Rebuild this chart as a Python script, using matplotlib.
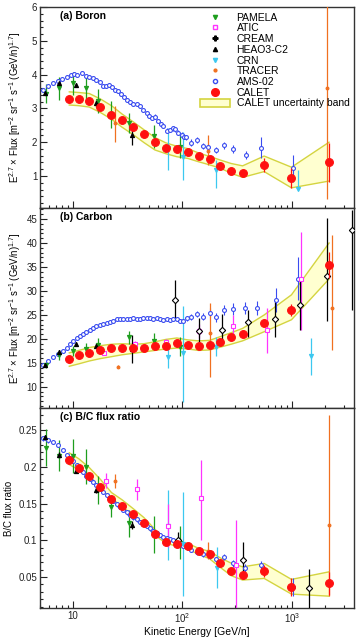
import matplotlib
matplotlib.use('Agg')
import matplotlib.pyplot as plt
from matplotlib.lines import Line2D
from matplotlib.patches import Patch
from matplotlib.ticker import FixedLocator, MultipleLocator, LogLocator, NullFormatter

plt.rcParams['font.family'] = ['Liberation Sans', 'DejaVu Sans']
plt.rcParams['mathtext.fontset'] = 'custom'
plt.rcParams['mathtext.rm'] = 'Liberation Sans'
plt.rcParams['mathtext.it'] = 'Liberation Sans:italic'
plt.rcParams['mathtext.bf'] = 'Liberation Sans:bold'

# ---------------- CALET (same energy bins in all panels) ----------------
calet_e = [9.26, 11.3, 14.1, 17.8, 22.5, 28.2, 35.6, 44.5, 56.1, 70.6,
           89.0, 112, 141, 177, 223, 279, 355, 559, 993, 2190]

calet_b = [3.29, 3.29, 3.23, 3.04, 2.81, 2.65, 2.45, 2.23, 2.00, 1.84,
           1.79, 1.72, 1.59, 1.51, 1.30, 1.14, 1.10, 1.33, 0.95, 1.40]
calet_b_err = [0.03, 0.03, 0.03, 0.03, 0.03, 0.03, 0.03, 0.03, 0.03, 0.04,
               0.04, 0.05, 0.05, 0.06, 0.07, 0.08, 0.10, 0.20, 0.30, 0.57]
band_b_hi = [3.49, 3.47, 3.44, 3.28, 3.08, 2.83, 2.60, 2.37, 2.14, 1.98,
             1.88, 1.81, 1.68, 1.58, 1.47, 1.37, 1.30, 1.59, 1.26, 2.00]
band_b_lo = [3.10, 3.08, 3.04, 2.88, 2.68, 2.44, 2.22, 1.99, 1.77, 1.66,
             1.57, 1.52, 1.42, 1.33, 1.23, 1.08, 0.96, 1.13, 0.65, 0.85]

calet_c = [15.76, 16.6, 17.15, 17.7, 18.05, 18.05, 18.2, 18.2, 18.6, 18.6,
           19.1, 18.75, 18.6, 18.75, 19.45, 20.3, 21.0, 23.3, 26.0, 35.4]
calet_c_err = [0.3, 0.3, 0.3, 0.3, 0.3, 0.3, 0.3, 0.3, 0.35, 0.35,
               0.4, 0.4, 0.4, 0.5, 0.5, 0.6, 0.7, 0.8, 1.3, 2.7]
band_c_hi = [17.1, 17.6, 18.2, 18.6, 18.9, 19.0, 18.9, 19.0, 19.4, 19.9,
             20.2, 19.8, 19.6, 19.7, 20.5, 21.3, 22.2, 25.0, 29.2, 40.0]
band_c_lo = [14.3, 14.8, 15.4, 15.9, 16.3, 16.7, 17.0, 17.3, 17.6, 17.9,
             18.1, 17.9, 17.6, 17.7, 18.3, 18.9, 19.6, 21.5, 24.0, 32.5]

calet_bc = [0.2087, 0.1978, 0.1879, 0.172, 0.1557, 0.1466, 0.1353, 0.124, 0.1085, 0.098,
            0.0944, 0.0922, 0.0854, 0.0813, 0.0686, 0.0582, 0.0527, 0.0582, 0.0369, 0.0414]
calet_bc_err = [0.003, 0.003, 0.003, 0.003, 0.003, 0.003, 0.003, 0.003, 0.003, 0.003,
                0.003, 0.003, 0.003, 0.004, 0.004, 0.004, 0.005, 0.008, 0.012, 0.016]
band_bc_hi = [0.219, 0.211, 0.199, 0.183, 0.165, 0.155, 0.143, 0.131, 0.115, 0.102,
              0.098, 0.096, 0.089, 0.085, 0.076, 0.069, 0.064, 0.0686, 0.0469, 0.0572]
band_bc_lo = [0.203, 0.196, 0.185, 0.170, 0.157, 0.146, 0.134, 0.122, 0.107, 0.096,
              0.092, 0.088, 0.081, 0.075, 0.063, 0.052, 0.046, 0.0482, 0.0269, 0.0241]

# ---------------- AMS-02 ----------------
ams_b_e = [5.36, 5.96, 6.61, 7.24, 8.0, 8.75, 9.52, 10.2, 10.9, 12.0,
           13.1, 14.1, 15.3, 16.4, 17.7, 18.9, 20.0, 21.2, 22.7, 24.2,
           25.6, 27.2, 29.0, 30.9, 33.2, 35.6, 38.1, 40.9, 43.9, 47.1,
           49.8, 52.6, 56.1, 59.7, 63.2, 66.8, 71.6, 76.9, 81.3, 85.5,
           91.6, 98.2, 103, 109, 121, 135, 155, 172, 205, 239,
           291, 380, 528, 1028]
ams_b = [3.54, 3.66, 3.76, 3.82, 3.88, 3.94, 3.99, 4.02, 4.00, 4.06,
         3.96, 3.94, 3.91, 3.84, 3.79, 3.66, 3.66, 3.68, 3.62, 3.54,
         3.50, 3.42, 3.33, 3.25, 3.19, 3.14, 3.13, 3.07, 2.95, 2.85,
         2.78, 2.71, 2.76, 2.64, 2.54, 2.48, 2.34, 2.36, 2.41, 2.38,
         2.28, 2.21, 2.16, 2.14, 1.99, 2.07, 1.89, 1.85, 1.77, 1.91,
         1.80, 1.62, 1.84, 1.23]
ams_b_err = [0.04, 0.04, 0.04, 0.04, 0.04, 0.04, 0.04, 0.04, 0.04, 0.04,
             0.05, 0.05, 0.05, 0.05, 0.05, 0.05, 0.05, 0.05, 0.05, 0.05,
             0.05, 0.05, 0.05, 0.05, 0.05, 0.05, 0.05, 0.05, 0.06, 0.06,
             0.06, 0.06, 0.06, 0.06, 0.06, 0.07, 0.07, 0.07, 0.07, 0.07,
             0.08, 0.08, 0.08, 0.08, 0.09, 0.09, 0.10, 0.10, 0.10, 0.11,
             0.12, 0.13, 0.30, 0.40]

ams_c_e = [5.36, 5.96, 6.61, 7.35, 8.17, 8.75, 9.39, 10.07, 10.8, 11.6,
           12.4, 13.3, 14.3, 15.3, 16.4, 17.7, 18.9, 20.3, 21.8, 23.3,
           25.1, 26.9, 28.8, 30.9, 33.2, 35.6, 38.1, 40.9, 43.9, 47.1,
           50.5, 54.2, 58.1, 62.4, 66.8, 71.6, 76.9, 82.4, 88.4, 94.8,
           101.8, 109.1, 121, 135, 153, 178, 205, 239, 291, 372,
           476, 710, 1143]
ams_c = [14.6, 15.3, 16.2, 16.8, 17.4, 18.05, 19.0, 19.5, 20.1, 20.6,
         21.0, 21.5, 21.9, 22.2, 22.6, 22.9, 23.1, 23.4, 23.6, 23.8,
         24.1, 24.2, 24.2, 24.2, 24.2, 24.3, 24.2, 24.2, 24.4, 24.3,
         24.4, 24.2, 24.3, 24.2, 23.96, 24.1, 24.0, 24.1, 24.2, 23.8,
         23.8, 24.3, 24.65, 25.2, 24.65, 25.5, 24.5, 26.0, 26.2, 26.4,
         26.4, 28.1, 32.6]
ams_c_err = [0.25, 0.25, 0.25, 0.25, 0.25, 0.25, 0.25, 0.25, 0.25, 0.25,
             0.3, 0.3, 0.3, 0.3, 0.3, 0.3, 0.3, 0.3, 0.3, 0.3,
             0.3, 0.3, 0.3, 0.3, 0.3, 0.35, 0.35, 0.35, 0.35, 0.35,
             0.35, 0.35, 0.35, 0.4, 0.4, 0.4, 0.4, 0.45, 0.45, 0.45,
             0.5, 0.5, 0.6, 0.7, 0.8, 0.9, 1.0, 1.1, 1.2, 1.3,
             1.5, 2.5, 4.4]

ams_bc_e = [5.36, 5.96, 6.61, 7.35, 8.17, 8.75, 9.39, 10.07, 10.8, 11.6,
            12.4, 13.3, 14.3, 15.3, 16.4, 17.7, 18.9, 20.3, 21.8, 23.3,
            25.1, 26.9, 28.8, 30.9, 33.2, 35.6, 38.1, 40.9, 43.9, 47.1,
            50.5, 54.2, 58.1, 62.4, 66.8, 71.6, 76.9, 82.4, 88.4, 94.8,
            101.8, 109.1, 121, 135, 153, 178, 205, 239, 291, 372,
            528, 1028]
ams_bc = [0.2387, 0.236, 0.234, 0.2296, 0.2228, 0.216, 0.2115, 0.208, 0.2024, 0.198,
          0.193, 0.188, 0.184, 0.180, 0.175, 0.1706, 0.166, 0.1616, 0.157, 0.1534,
          0.149, 0.145, 0.1411, 0.138, 0.1344, 0.1312, 0.1285, 0.1253, 0.1221, 0.1194,
          0.1162, 0.113, 0.1103, 0.1071, 0.1049, 0.1026, 0.1012, 0.1003, 0.098, 0.0958,
          0.0926, 0.0904, 0.0867, 0.0845, 0.081, 0.0786, 0.074, 0.0776, 0.0686, 0.0626,
          0.0663, 0.0368]
ams_bc_err = [0.003, 0.003, 0.003, 0.003, 0.003, 0.003, 0.003, 0.003, 0.003, 0.003,
              0.003, 0.003, 0.003, 0.003, 0.003, 0.003, 0.003, 0.003, 0.003, 0.003,
              0.003, 0.003, 0.003, 0.003, 0.003, 0.003, 0.003, 0.003, 0.003, 0.003,
              0.003, 0.003, 0.003, 0.003, 0.003, 0.003, 0.003, 0.003, 0.003, 0.003,
              0.003, 0.003, 0.003, 0.004, 0.004, 0.004, 0.004, 0.004, 0.005, 0.005,
              0.006, 0.012]

# ---------------- PAMELA ----------------
pam_e = [5.66, 7.5, 9.93, 13.1, 17.0, 22.1, 32.7, 55.3, 95.5]
pam_b = [3.43, 3.59, 3.74, 3.59, 3.22, 2.82, 2.57, 2.17, 1.87]
pam_b_err = [0.28, 0.33, 0.33, 0.40, 0.35, 0.40, 0.30, 0.35, 0.35]
pam_c_e = [5.66, 7.5, 9.93, 13.1, 17.0, 32.7, 55.3, 95.5]
pam_c = [14.5, 16.6, 17.5, 18.0, 18.7, 20.3, 19.5, 18.4]
pam_c_err = [0.6, 1.0, 1.0, 1.2, 1.4, 1.4, 1.8, 1.9]
pam_bc = [0.226, 0.215, 0.215, 0.200, 0.168, 0.146, 0.123, 0.108, 0.097]
pam_bc_err = [0.025, 0.021, 0.023, 0.024, 0.019, 0.014, 0.018, 0.025, 0.022]

# ---------------- HEAO3-C2 ----------------
heao_e = [5.5, 7.5, 10.6, 16.4, 34.8]
heao_b = [3.47, 3.76, 3.68, 3.15, 2.21]
heao_b_err = [0.05, 0.06, 0.06, 0.10, 0.30]
heao_c = [14.5, 17.2, 18.9, 18.6, 17.9]
heao_c_err = [0.3, 0.4, 0.4, 0.5, 2.9]
heao_bc = [0.240, 0.216, 0.195, 0.169, 0.121]
heao_bc_err = [0.003, 0.004, 0.004, 0.005, 0.005]

# ---------------- CREAM ----------------
cream_c_e = [85, 141, 229, 398, 700, 1200, 2075, 3557]
cream_c = [28.1, 21.7, 21.9, 23.6, 24.1, 27.1, 33.1, 42.7]
cream_c_lo = [4.1, 2.6, 2.8, 3.1, 3.6, 5.2, 9.3, 16.7]
cream_c_hi = [4.2, 2.6, 3.2, 2.4, 4.0, 5.9, 12.2, 4.2]
cream_bc_e = [91, 360, 1440]
cream_bc = [0.1003, 0.0727, 0.0346]
cream_bc_lo = [0.009, 0.025, 0.027]
cream_bc_hi = [0.011, 0.025, 0.026]

# ---------------- ATIC ----------------
atic_c_e = [19.2, 36.6, 71, 141, 291, 596, 1222]
atic_c = [17.0, 19.0, 19.4, 21.7, 22.6, 21.8, 32.6]
atic_c_lo = [0.4, 0.5, 0.6, 1.5, 2.8, 4.8, 10.7]
atic_c_hi = [0.4, 0.5, 0.6, 1.5, 2.4, 4.6, 9.6]
atic_bc_e = [20.0, 38.2, 74.0, 147, 307]
atic_bc = [0.181, 0.170, 0.119, 0.157, 0.066]
atic_bc_lo = [0.010, 0.015, 0.028, 0.057, 0.059]
atic_bc_hi = [0.011, 0.014, 0.031, 0.052, 0.062]

# ---------------- CRN ----------------
crn_b_e = [73.3, 101, 205, 1143]
crn_b = [1.82, 1.57, 1.18, 0.62]
crn_b_lo = [0.64, 0.69, 0.54, 0.03]
crn_b_hi = [0.59, 0.74, 0.29, 0.56]
crn_c_e = [73.3, 101, 205, 1490]
crn_c = [16.3, 17.0, 18.4, 16.5]
crn_c_lo = [2.4, 10.2, 2.05, 4.0]
crn_c_hi = [2.1, 9.9, 2.1, 3.65]
crn_bc_e = [73.3, 101, 206]
crn_bc = [0.120, 0.095, 0.063]
crn_bc_lo = [0.047, 0.070, 0.028]
crn_bc_hi = [0.048, 0.071, 0.028]

# ---------------- TRACER ----------------
tracer_b_e = [24.2, 172, 2075]
tracer_b = [2.56, 1.75, 3.59]
tracer_b_lo = [0.54, 0.42, 3.26]
tracer_b_hi = [0.51, 0.46, 3.0]
tracer_c_e = [25.9, 180, 2320]
tracer_c = [14.2, 21.2, 26.4]
tracer_c_lo = [0.3, 9.1, 8.7]
tracer_c_hi = [0.3, 6.2, 15.3]
tracer_bc_e = [24.2, 172, 2200]
tracer_bc = [0.181, 0.086, 0.121]
tracer_bc_lo = [0.010, 0.011, 0.096]
tracer_bc_hi = [0.009, 0.012, 0.149]

# colours
c_pam = '#1e9e1e'
c_atic = '#ff33ff'
c_cream = 'black'
c_heao = 'black'
c_crn = '#3cc8f0'
c_tracer = '#f07020'
c_ams = '#3a4cf0'
c_calet = '#ff1010'
c_band_fill = '#ffffd0'
c_band_edge = '#d4d440'


def draw(ax, e, v, lo, hi, marker, color, ms, open_marker=False, z=3, lw=0.9):
    ax.errorbar(e, v, yerr=[lo, hi], fmt=marker, color=color, ms=ms,
                mfc='white' if open_marker else color, mec=color, mew=0.8,
                elinewidth=lw, capsize=0, zorder=z)


def draw_band(ax, hi, lo):
    ax.fill_between(calet_e, lo, hi, facecolor=c_band_fill, edgecolor='none', zorder=1)
    ax.plot(calet_e, hi, color=c_band_edge, lw=1.0, zorder=1.5)
    ax.plot(calet_e, lo, color=c_band_edge, lw=1.0, zorder=1.5)


fig = plt.figure(figsize=(3.61, 6.4), dpi=100)
L, W = 40 / 361, 314 / 361
ax_a = fig.add_axes([L, 1 - 208 / 640, W, 201 / 640])
ax_b = fig.add_axes([L, 1 - 408 / 640, W, 200 / 640])
ax_c = fig.add_axes([L, 1 - 608 / 640, W, 200 / 640])

ams_ms = 2.8
calet_ms = 5.6

# ---- (a) Boron ----
ax = ax_a
draw_band(ax, band_b_hi, band_b_lo)
draw(ax, ams_b_e, ams_b, ams_b_err, ams_b_err, 'o', c_ams, ams_ms, open_marker=True, lw=0.8)
draw(ax, pam_e, pam_b, pam_b_err, pam_b_err, 'v', c_pam, 3)
draw(ax, heao_e, heao_b, heao_b_err, heao_b_err, '^', c_heao, 3)
draw(ax, crn_b_e, crn_b, crn_b_lo, crn_b_hi, 'v', c_crn, 3)
draw(ax, tracer_b_e, tracer_b, tracer_b_lo, tracer_b_hi, 'o', c_tracer, 2)
draw(ax, calet_e, calet_b, calet_b_err, calet_b_err, 'o', c_calet, calet_ms, z=5)
ax.set_ylim(0.053, 6)
ax.yaxis.set_major_locator(MultipleLocator(1))
ax.yaxis.set_minor_locator(MultipleLocator(0.2))
ax.text(0.064, 0.955, '(a) Boron', transform=ax.transAxes, fontsize=7.5,
        fontweight='bold', va='center', ha='left')

handles = [
    Line2D([], [], ls='none', marker='v', color=c_pam, ms=3),
    Line2D([], [], ls='none', marker='s', color=c_atic, mfc='white', ms=3),
    Line2D([], [], ls='none', marker='P', color=c_cream, ms=3.5),
    Line2D([], [], ls='none', marker='^', color=c_heao, ms=3),
    Line2D([], [], ls='none', marker='v', color=c_crn, ms=3),
    Line2D([], [], ls='none', marker='o', color=c_tracer, ms=2),
    Line2D([], [], ls='none', marker='o', color=c_ams, mfc='white', ms=3),
    Line2D([], [], ls='none', marker='o', color=c_calet, ms=5.5),
    Patch(facecolor=c_band_fill, edgecolor=c_band_edge, lw=1.2),
]
labels = ['PAMELA', 'ATIC', 'CREAM', 'HEAO3-C2', 'CRN', 'TRACER', 'AMS-02',
          'CALET', 'CALET uncertainty band']
ax.legend(handles, labels, loc='upper left', bbox_to_anchor=(0.51, 0.972),
          frameon=False, fontsize=7.5, labelspacing=0.07, handlelength=2.9,
          handleheight=0.9, handletextpad=0.6, borderpad=0, borderaxespad=0)

# ---- (b) Carbon ----
ax = ax_b
draw_band(ax, band_c_hi, band_c_lo)
draw(ax, ams_c_e, ams_c, ams_c_err, ams_c_err, 'o', c_ams, ams_ms, open_marker=True, lw=0.8)
draw(ax, pam_c_e, pam_c, pam_c_err, pam_c_err, 'v', c_pam, 3)
draw(ax, heao_e, heao_c, heao_c_err, heao_c_err, '^', c_heao, 3)
draw(ax, crn_c_e, crn_c, crn_c_lo, crn_c_hi, 'v', c_crn, 3)
draw(ax, tracer_c_e, tracer_c, tracer_c_lo, tracer_c_hi, 'o', c_tracer, 2)
draw(ax, atic_c_e, atic_c, atic_c_lo, atic_c_hi, 's', c_atic, 3.5, open_marker=True)
draw(ax, cream_c_e, cream_c, cream_c_lo, cream_c_hi, 'D', c_cream, 3.2, open_marker=True)
draw(ax, calet_e, calet_c, calet_c_err, calet_c_err, 'o', c_calet, calet_ms, z=5)
ax.set_ylim(5.6, 47.3)
ax.yaxis.set_major_locator(MultipleLocator(5))
ax.yaxis.set_minor_locator(MultipleLocator(1))
ax.text(0.064, 0.955, '(b) Carbon', transform=ax.transAxes, fontsize=7.5,
        fontweight='bold', va='center', ha='left')

# ---- (c) B/C ----
ax = ax_c
draw_band(ax, band_bc_hi, band_bc_lo)
draw(ax, ams_bc_e, ams_bc, ams_bc_err, ams_bc_err, 'o', c_ams, ams_ms, open_marker=True, lw=0.8)
draw(ax, pam_e, pam_bc, pam_bc_err, pam_bc_err, 'v', c_pam, 3)
draw(ax, heao_e, heao_bc, heao_bc_err, heao_bc_err, '^', c_heao, 3)
draw(ax, crn_bc_e, crn_bc, crn_bc_lo, crn_bc_hi, 'v', c_crn, 3)
draw(ax, tracer_bc_e, tracer_bc, tracer_bc_lo, tracer_bc_hi, 'o', c_tracer, 2)
draw(ax, atic_bc_e, atic_bc, atic_bc_lo, atic_bc_hi, 's', c_atic, 3.5, open_marker=True)
draw(ax, cream_bc_e, cream_bc, cream_bc_lo, cream_bc_hi, 'D', c_cream, 3.2, open_marker=True)
draw(ax, calet_e, calet_bc, calet_bc_err, calet_bc_err, 'o', c_calet, calet_ms, z=5)
ax.set_ylim(0.008, 0.28)
ax.yaxis.set_major_locator(FixedLocator([0.05, 0.1, 0.15, 0.2, 0.25]))
ax.set_yticklabels(['0.05', '0.1', '0.15', '0.2', '0.25'])
ax.yaxis.set_minor_locator(MultipleLocator(0.01))
ax.text(0.064, 0.955, '(c) B/C flux ratio', transform=ax.transAxes, fontsize=7.5,
        fontweight='bold', va='center', ha='left')

flux_label = r'E$^{2.7}$ $\times$ Flux [m$^{-2}$ sr$^{-1}$ s$^{-1}$ (GeV/n)$^{1.7}$]'
for ax, lab, lx in [(ax_a, flux_label, -0.055), (ax_b, flux_label, -0.055),
                    (ax_c, 'B/C flux ratio', -0.082)]:
    ax.set_xscale('log')
    ax.set_xlim(5, 3700)
    ax.xaxis.set_major_locator(FixedLocator([10, 100, 1000]))
    ax.xaxis.set_minor_locator(LogLocator(base=10, subs=range(2, 10), numticks=20))
    ax.xaxis.set_minor_formatter(NullFormatter())
    ax.tick_params(which='both', direction='in', top=False, right=False,
                   labelsize=7, width=0.8, colors='#222222', pad=2)
    ax.tick_params(which='major', length=5)
    ax.tick_params(which='minor', length=2.5)
    for s in ax.spines.values():
        s.set_linewidth(1.0)
        s.set_color('#333333')
    ax.set_ylabel(lab, fontsize=6.9, labelpad=2)
    ax.yaxis.set_label_coords(lx, 0.5)

ax_a.tick_params(labelbottom=False)
ax_b.tick_params(labelbottom=False)
ax_c.set_xticklabels(['10', r'10$^2$', r'10$^3$'])
ax_c.set_xlabel('Kinetic Energy [GeV/n]', fontsize=7.5, labelpad=2)

fig.savefig('out.png', dpi=100)
